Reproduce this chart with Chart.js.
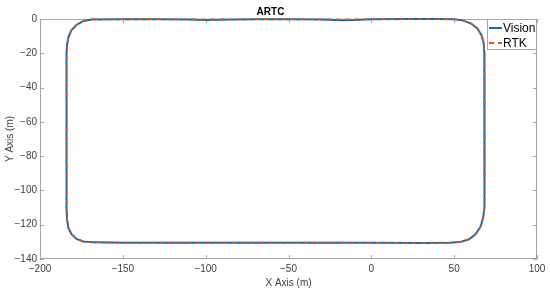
<!DOCTYPE html>
<html>
<head>
<meta charset="utf-8">
<script src="https://cdn.jsdelivr.net/npm/chart.js@4.4.0/dist/chart.umd.min.js"></script>
<style>
  html, body { margin: 0; padding: 0; background: #fff; }
  #wrap { width: 550px; height: 292px; }
</style>
</head>
<body>
<div id="wrap"><canvas id="artcChart" width="550" height="292"></canvas></div>
<script>
"use strict";

// track, clockwise from the top-left corner
const visionX = [-168, -150, -130, -110, -100, -92, -70, -50, -30, -18, -10, 0, 20, 40, 50, 55, 60, 64, 66.5, 67.8, 68.2, 68.3, 68.3, 68.3, 68.3, 68.2, 67.5, 66, 63, 59, 54, 48, 30, 0, -50, -100, -150, -168, -174, -178, -181, -182.8, -183.7, -184, -184, -184, -184, -183.7, -182.8, -181, -178, -174, -170, -168];
const visionY = [-0.3, -0.2, -0.1, -0.3, -0.6, -0.4, -0.2, -0.1, -0.3, -0.7, -0.6, -0.2, 0, 0, -0.2, -0.8, -2.5, -5.5, -9.5, -14, -20, -40, -60, -80, -100, -110, -116, -121, -125.5, -128.5, -130, -130.5, -130.6, -130.5, -130.5, -130.5, -130.5, -130.3, -129.8, -128.3, -125.5, -122, -117, -110, -80, -40, -20, -15, -10.5, -6.5, -3.5, -1.3, -0.4, -0.3];

const rtkX = [-168, -150, -130, -110, -90, -70, -50, -30, -10, 0, 20, 40, 50, 55, 60, 64, 66.5, 67.8, 68.3, 68.4, 68.4, 68.4, 68.4, 68.3, 67.6, 66, 63, 59, 54, 48, 30, 0, -50, -100, -150, -168, -174, -178, -181, -182.8, -183.6, -183.9, -183.9, -183.9, -183.9, -183.6, -182.8, -181, -178, -174, -170, -168];
const rtkY = [-0.2, -0.1, -0.1, -0.2, -0.2, -0.1, -0.1, -0.2, -0.2, -0.1, 0, 0, -0.2, -0.8, -2.4, -5.4, -9.4, -14, -20, -40, -60, -80, -100, -110, -116, -121, -125.4, -128.4, -130, -130.4, -130.5, -130.5, -130.4, -130.4, -130.4, -130.2, -129.7, -128.2, -125.4, -122, -117, -110, -80, -40, -20, -15, -10.5, -6.5, -3.5, -1.3, -0.4, -0.2];

const seriesNames = ["Vision", "RTK"];
const xTicks = [-200, -150, -100, -50, 0, 50, 100];
const yTicks = [-140, -120, -100, -80, -60, -40, -20, 0];

const toPoints = (xs, ys) => xs.map((x, i) => ({ x: x, y: ys[i] }));
const fmt = (v) => (v < 0 ? "\u2212" + Math.abs(v) : String(v));

const axisColor = "#a6a6a6";
const textColor = "#404040";
const fontFamily = "'Liberation Sans', Arial, sans-serif";

// MATLAB style box with inward ticks (under the lines) + legend inside the axes
const boxPlugin = {
  id: "boxPlugin",
  beforeDatasetsDraw(chart) {
    const c = chart.ctx;
    const a = chart.chartArea;
    const sx = chart.scales.x;
    const sy = chart.scales.y;
    c.save();
    c.strokeStyle = axisColor;
    c.lineWidth = 1;
    c.strokeRect(a.left + 0.5, a.top + 0.5, a.right - a.left - 1, a.bottom - a.top - 1);
    c.beginPath();
    xTicks.forEach((v) => {
      const px = Math.round(sx.getPixelForValue(v)) + 0.5;
      c.moveTo(px, a.bottom); c.lineTo(px, a.bottom - 4);
      c.moveTo(px, a.top); c.lineTo(px, a.top + 4);
    });
    yTicks.forEach((v) => {
      const py = Math.round(sy.getPixelForValue(v)) + 0.5;
      c.moveTo(a.left, py); c.lineTo(a.left + 4, py);
      c.moveTo(a.right, py); c.lineTo(a.right - 4, py);
    });
    c.stroke();
    c.restore();
  },
  afterDraw(chart) {
    const c = chart.ctx;
    const a = chart.chartArea;
    const w = 50, h = 31;
    const lx = a.right - w, ly = a.top;
    c.save();
    c.strokeStyle = axisColor;
    c.lineWidth = 1;
    c.fillStyle = "#fff";
    c.fillRect(lx, ly, w, h);
    c.strokeRect(lx + 0.5, ly + 0.5, w - 1, h - 1);
    c.font = "12px " + fontFamily;
    c.textBaseline = "middle";
    c.fillStyle = "#000";
    chart.data.datasets.forEach((ds, i) => {
      const yy = ly + 9 + i * 15;
      c.beginPath();
      c.strokeStyle = ds.borderColor;
      c.lineWidth = 2;
      c.setLineDash(ds.borderDash || []);
      c.moveTo(lx + 2, yy); c.lineTo(lx + 15, yy);
      c.stroke();
      c.setLineDash([]);
      c.fillText(ds.label, lx + 16, yy + 1);
    });
    c.restore();
  }
};

const ctx = document.getElementById("artcChart").getContext("2d");
const artcChart = new Chart(ctx, {
  type: "scatter",
  data: {
    datasets: [
      {
        label: seriesNames[0],
        data: toPoints(visionX, visionY),
        showLine: true,
        borderColor: "#0072BD",
        borderWidth: 2,
        pointRadius: 0,
        tension: 0,
        clip: false,
        order: 1
      },
      {
        label: seriesNames[1],
        data: toPoints(rtkX, rtkY),
        showLine: true,
        borderColor: "#D95319",
        borderWidth: 1.6,
        borderDash: [5, 4],
        pointRadius: 0,
        tension: 0,
        clip: false,
        order: 0
      }
    ]
  },
  options: {
    responsive: false,
    animation: false,
    layout: { padding: { left: 4, right: 13, top: 0, bottom: 0 } },
    plugins: {
      legend: { display: false },
      tooltip: { enabled: false },
      title: {
        display: true,
        text: "ARTC",
        color: "#000",
        font: { family: fontFamily, size: 10, weight: "bold" },
        padding: { top: 6, bottom: 1 }
      }
    },
    scales: {
      x: {
        type: "linear",
        min: -200,
        max: 100,
        afterBuildTicks: (scale) => { scale.ticks = xTicks.map((v) => ({ value: v })); },
        afterFit: (scale) => { scale.height = 33; },
        grid: { display: false, drawTicks: false },
        border: { display: false },
        ticks: {
          color: textColor,
          padding: 4,
          maxRotation: 0,
          font: { family: fontFamily, size: 10 },
          callback: (v) => fmt(v)
        },
        title: {
          display: true,
          text: "X Axis (m)",
          color: textColor,
          padding: { top: 0, bottom: 3 },
          font: { family: fontFamily, size: 10 }
        }
      },
      y: {
        type: "linear",
        min: -140,
        max: 0,
        afterBuildTicks: (scale) => { scale.ticks = yTicks.map((v) => ({ value: v })); },
        afterFit: (scale) => { scale.width = 36; },
        grid: { display: false, drawTicks: false },
        border: { display: false },
        ticks: {
          color: textColor,
          padding: 3,
          font: { family: fontFamily, size: 10 },
          callback: (v) => fmt(v)
        },
        title: {
          display: true,
          text: "Y Axis (m)",
          color: textColor,
          padding: { top: 0, bottom: 0 },
          font: { family: fontFamily, size: 10 }
        }
      }
    }
  },
  plugins: [boxPlugin]
});
</script>
</body>
</html>
